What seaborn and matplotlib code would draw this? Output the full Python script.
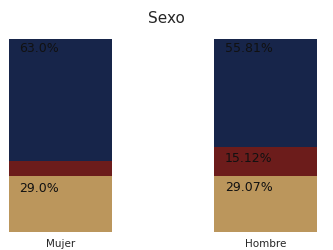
import numpy as np
import pandas as pd
import seaborn as sns
import matplotlib.pyplot as plt

# Values (percent)
categories = ['Mujer', 'Hombre']
tan_pct = [29.0, 29.07]
red_pct = [8.0, 15.12]
navy_pct = [63.0, 55.81]

tan_color = '#bb965c'
red_color = '#6c1c1b'
navy_color = '#17254a'

sns.set_theme(style="white")
plt.rcParams['font.family'] = ['DejaVu Sans']

fig = plt.figure(figsize=(3.33, 2.5), dpi=100)
ax = fig.add_axes([0, 0.072, 1, 0.772])

df = pd.DataFrame({
    'Sexo': categories,
    'tan': tan_pct,
    'red': red_pct,
    'navy': navy_pct,
})
df['red_top'] = df['tan'] + df['red']
df['navy_top'] = df['red_top'] + df['navy']

# stacked bars: draw the cumulative totals from the top down
opts = dict(linewidth=0, width=0.5, saturation=1)
sns.barplot(x='Sexo', y='navy_top', data=df, color=navy_color, ax=ax, **opts)
sns.barplot(x='Sexo', y='red_top', data=df, color=red_color, ax=ax, **opts)
sns.barplot(x='Sexo', y='tan', data=df, color=tan_color, ax=ax, **opts)

# labels at the top left of each segment (small ones skipped)
for i, row in df.iterrows():
    for val, top, dy in [(row['tan'], row['tan'], -4),
                         (row['red'], row['red_top'], -4),
                         (row['navy'], row['navy_top'], -2)]:
        if val < 10:
            continue
        txt = f"{val:.1f}%" if i == 0 else f"{val:.2f}%"
        ax.annotate(txt, xy=(i - 0.25, top), xytext=(7.5, dy),
                    textcoords='offset points', ha='left', va='top',
                    fontsize=9, color='#111111')

ax.set_xlim(-0.294, 1.328)
ax.set_ylim(0, 100)
ax.set_xlabel('')
ax.set_ylabel('')
ax.set_yticks([])
ax.tick_params(axis='x', length=0, labelsize=7.5, pad=5)
sns.despine(ax=ax, left=True, bottom=True)
fig.suptitle('Sexo', fontsize=11, y=0.957)

fig.savefig('out.png', dpi=100)
